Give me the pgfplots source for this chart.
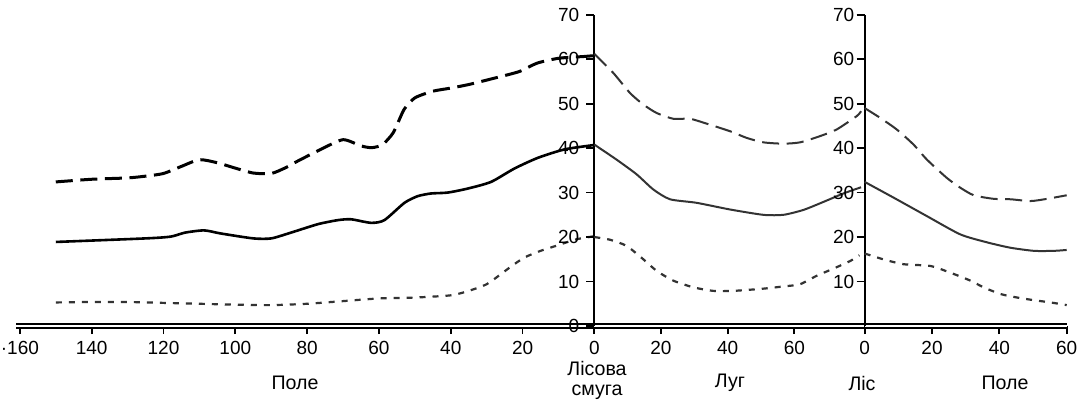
\documentclass[border=0pt]{standalone}
\usepackage{fontspec}
\setmainfont{Liberation Sans}
\usepackage{pgfplots}
\pgfplotsset{compat=1.18}

\definecolor{dk}{HTML}{333333}

\pgfplotsset{
  panel/.style={
    scale only axis, height=155.65pt,
    ymin=0, ymax=70, clip=false,
    axis x line*=bottom, tick align=outside,
    axis line style={-},
    every outer x axis line/.append style={-},
    every outer y axis line/.append style={-},
    x axis line style={-, double, double distance=1.2pt, line width=0.8pt},
    y axis line style={-, line width=1pt},
    xtick pos=bottom, ytick pos=left,
    major tick style={black, line width=0.9pt},
    major tick length=4pt,
    tick label style={font=\fontsize{9.5}{11}\selectfont},
    /pgf/number format/assume math mode=true,
    minor tick num=0,
  },
  dashline/.style={dash pattern=on 8.5pt off 3.8pt, smooth, tension=0.4},
  dotline/.style={dash pattern=on 3pt off 3.5pt, line width=1.1pt, dk, smooth, tension=0.4},
}

\begin{document}
\begin{tikzpicture}
\path[use as bounding box] (0,0) rectangle (540.5pt,204.5pt);

% поле перед лісовою смугою
\begin{axis}[panel, at={(8.15pt,41.5pt)}, anchor=south west,
  width=289.05pt, xmin=-161, xmax=0,
  axis y line=none, ytick=\empty,
  xtick={-160,-140,-120,-100,-80,-60,-40,-20},
  xticklabels={·160,140,120,100,80,60,40,20}]
\addplot[black, line width=1.5pt, dashline] coordinates {
(-150,32.4)(-140,33.0)(-130,33.3)(-125,33.7)(-120,34.3)(-115,35.9)(-110,37.4)
(-105,36.7)(-100,35.5)(-95,34.4)(-90,34.3)(-86,35.6)(-82.6,37.1)(-76,39.8)
(-70,41.9)(-65,40.5)(-62,40.1)(-59,40.8)(-56,43.5)(-53,48.7)(-50,51.3)
(-45,52.8)(-40,53.5)(-35,54.3)(-29,55.5)(-21,57.2)(-16,59.1)(-10,60.2)
(-3,60.6)(0,60.8)};
\addplot[black, line width=1.3pt, smooth, tension=0.4] coordinates {
(-150,18.9)(-125,19.7)(-118,20.1)(-114,21.0)(-108.7,21.5)(-104,20.8)(-95,19.7)
(-90,19.7)(-84.5,21.0)(-77,22.9)(-71.5,23.8)(-67.8,24.0)(-62.2,23.2)(-58.5,23.8)
(-52.9,27.7)(-49.2,29.2)(-45.5,29.8)(-40.9,30.0)(-35.3,30.9)(-28.8,32.4)
(-22.3,35.4)(-15.8,37.8)(-8.4,39.7)(-1,40.6)(0,40.7)};
\addplot[dotline] coordinates {
(-150,5.3)(-140,5.4)(-130,5.4)(-120,5.2)(-110,5.0)(-100,4.8)(-90,4.7)(-80,5.0)
(-70,5.6)(-60,6.2)(-50,6.4)(-40,6.9)(-35,7.9)(-30,9.4)(-26,11.7)(-23,13.5)
(-19.5,15.4)(-15,16.9)(-10,18.2)(-5,19.5)(0,20.2)};
\end{axis}

% луг
\begin{axis}[panel, at={(297.15pt,41.5pt)}, anchor=south west,
  width=135.05pt, xmin=0, xmax=81,
  axis y line*=left, ytick={0,10,...,70},
  xtick={0,20,40,60}]
\addplot[dk, line width=1pt, dashline] coordinates {
(0,61.2)(5.7,56.9)(10.7,52.4)(14.7,49.8)(18.7,47.9)(23.7,46.6)(28.7,46.6)
(33.7,45.5)(40.7,43.8)(45.7,42.3)(50.7,41.3)(56.7,41.0)(61.7,41.3)(67.7,42.7)
(72.7,44.2)(78.7,47.2)(80,48.3)};
\addplot[dk, line width=1pt, smooth, tension=0.4] coordinates {
(0,40.8)(6.7,37.4)(12.7,34.1)(17.7,30.7)(22.7,28.5)(30.7,27.7)(40.7,26.2)
(50.7,25.0)(56.7,25.0)(62.7,26.1)(68.7,27.9)(74.7,29.8)(80,31.2)};
\addplot[dotline] coordinates {
(0,20.0)(4.7,19.4)(9.7,18.0)(14.7,15.0)(18.7,12.4)(23.7,10.2)(29.7,8.7)
(35.7,7.9)(41.7,7.9)(50.7,8.4)(56.7,8.9)(61.7,9.4)(66.7,11.3)(71.7,12.9)
(76.7,14.6)(79.5,15.9)};
\end{axis}

% поле за лісом
\begin{axis}[panel, at={(432.35pt,41.5pt)}, anchor=south west,
  width=101pt, xmin=0, xmax=60,
  axis y line*=left, ytick={10,20,...,70},
  yticklabel style={inner sep=1pt},
  xtick={0,20,40,60}]
\addplot[dk, line width=1pt, dashline] coordinates {
(0,49.0)(4.6,46.8)(9.5,44.2)(14.5,40.8)(18.5,37.4)(24.4,33.3)(28.4,31.1)
(32.4,29.4)(38.3,28.6)(43.3,28.5)(49.3,28.1)(54.2,28.6)(60,29.4)};
\addplot[dk, line width=1pt, smooth, tension=0.4] coordinates {
(0,32.4)(8.5,28.9)(18.5,24.7)(28.4,20.6)(36.4,18.8)(43.3,17.6)(50.3,16.9)
(56.2,16.9)(60,17.1)};
\addplot[dotline] coordinates {
(0,16.3)(5.5,15.0)(11.5,13.9)(19.5,13.5)(25.4,12.0)(31.4,10.2)(35.3,8.7)
(40.3,7.2)(45.3,6.4)(50.3,5.8)(55.2,5.3)(60,4.7)};
\end{axis}

\begin{scope}[font=\fontsize{9.8}{11}\selectfont]
\node at (147.5pt,13pt) {Поле};
\node at (298.5pt,20.5pt) {Лісова};
\node at (298.5pt,8.5pt) {смуга};
\node at (365pt,13pt) {Луг};
\node at (431pt,13pt) {Ліс};
\node at (502.5pt,13pt) {Поле};
\end{scope}
\end{tikzpicture}
\end{document}
